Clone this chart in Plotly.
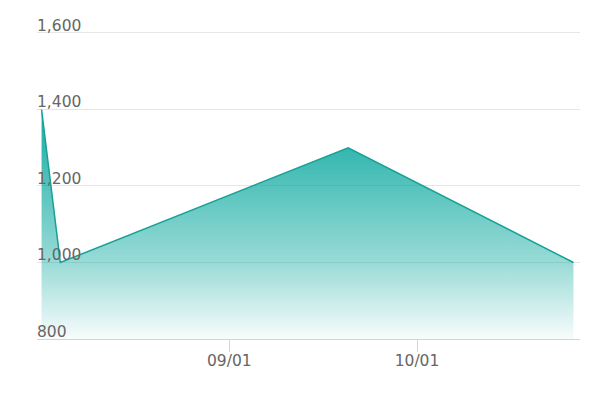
import plotly.graph_objects as go

# Data
dates = ["2023-08-02", "2023-08-05", "2023-09-20", "2023-10-26"]
values = [1400, 1000, 1300, 1000]

x_tick_vals = ["2023-09-01", "2023-10-01"]
x_tick_text = ["09/01", "10/01"]
y_tick_vals = [800, 1000, 1200, 1400, 1600]
y_tick_text = ["800", "1,000", "1,200", "1,400", "1,600"]

line_color = "rgb(23,160,150)"
base = "0,165,155"

fig = go.Figure()
fig.add_trace(go.Scatter(
    x=dates, y=values, mode="lines",
    line=dict(color=line_color, width=1.5),
    fill="tozeroy",
    fillgradient=dict(
        type="vertical", start=800, stop=1400,
        colorscale=[
            [0.0, f"rgba({base},0.03)"],
            [0.333, f"rgba({base},0.40)"],
            [0.833, f"rgba({base},0.80)"],
            [1.0, f"rgba({base},0.90)"],
        ],
    ),
    hoverinfo="skip",
    showlegend=False,
))

font_family = "DejaVu Sans"
fig.update_layout(
    width=606, height=394,
    margin=dict(l=37, r=26, t=31, b=55),
    paper_bgcolor="white", plot_bgcolor="white",
    font=dict(family=font_family, size=15.5, color="#666666"),
    xaxis=dict(
        type="date",
        range=["2023-08-01 06:30", "2023-10-27 01:10"],
        tickvals=x_tick_vals, ticktext=x_tick_text,
        ticks="outside", ticklen=12, tickcolor="#ccd6eb", tickwidth=1,
        ticklabelstandoff=-5,
        showline=True, linecolor="#ccd6eb", linewidth=1,
        showgrid=False, zeroline=False,
        tickfont=dict(family=font_family, size=15.5, color="#666666"),
    ),
    yaxis=dict(
        range=[800, 1605.2],
        tickvals=y_tick_vals, ticktext=y_tick_text,
        ticklabelposition="inside top",
        ticklabeloverflow="allow",
        ticklabelshift=3,
        ticklabelstandoff=-3,
        ticks="", showline=False, zeroline=False,
        showgrid=True, gridcolor="#e6e6e6", gridwidth=1,
        tickfont=dict(family=font_family, size=15.5, color="#666666"),
    ),
)

fig.write_html("out.html")
